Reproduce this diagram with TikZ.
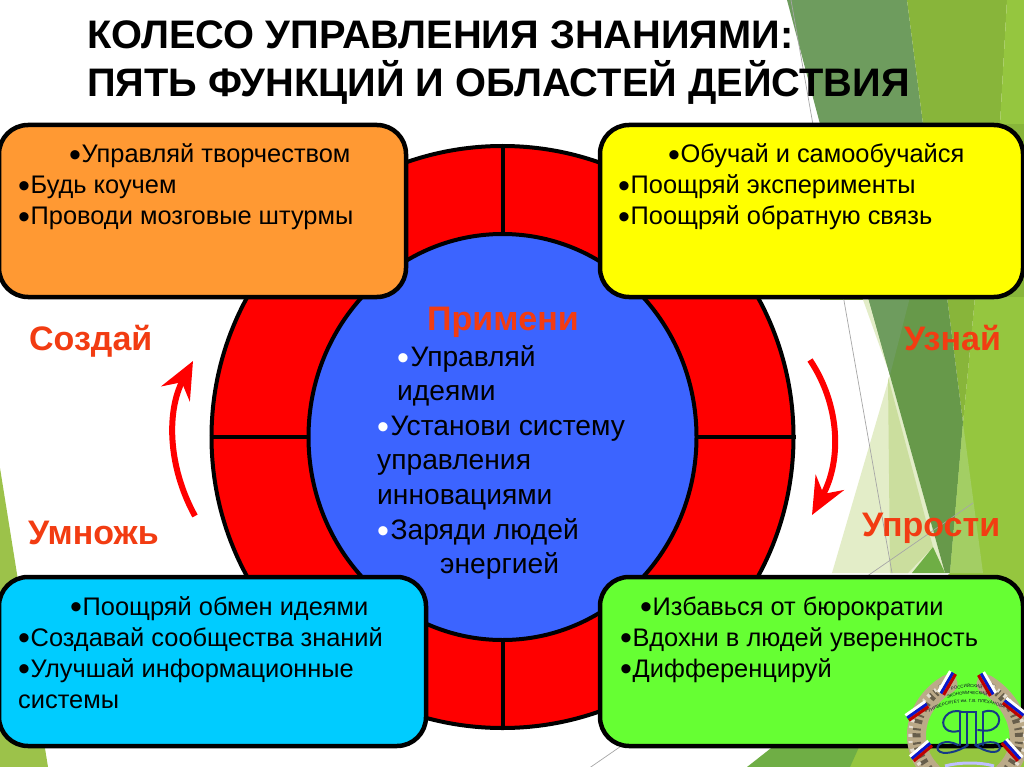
\documentclass[tikz,border=0pt]{standalone}
\usepackage{fontspec}
\setmainfont{Liberation Sans}
\usetikzlibrary{arrows.meta,decorations.text}
\definecolor{lblred}{HTML}{F23C12}
\definecolor{wheelblue}{HTML}{3C64FF}
\definecolor{gA}{HTML}{6E9C5E}
\definecolor{gB}{HTML}{88B53A}
\definecolor{gC}{HTML}{95C63F}
\definecolor{gD}{HTML}{67994A}
\definecolor{gE}{HTML}{E3EDC8}
\definecolor{gF}{HTML}{CBDE9E}
\definecolor{gG}{HTML}{6FAE45}
\definecolor{gH}{HTML}{A3CE64}
\definecolor{gI}{HTML}{9CC24A}
\definecolor{navy}{HTML}{163A86}
\definecolor{wreath}{HTML}{BBAA88}
\definecolor{boxyellow}{RGB}{255,255,0}
\newcommand{\bl}{{\fontsize{34}{34}\selectfont\raisebox{-0.09em}{•}\kern0.6pt}}
\newcommand{\wb}{{\fontsize{34}{34}\selectfont\raisebox{-0.09em}{\textcolor{white}{•}}\kern1.5pt}}
\tikzset{
  infobox/.style={draw=black,line width=4.5pt,rounded corners=29pt},
  boxtext/.style={anchor=base west,inner sep=0pt,align=left,font=\fontsize{25.4}{31}\selectfont},
  centertext/.style={anchor=base west,inner sep=0pt,align=left,font=\fontsize{28.2}{34.6}\selectfont},
  phase/.style={anchor=base west,inner sep=0pt,text=lblred,font=\bfseries\fontsize{34}{34}\selectfont},
  ttl/.style={anchor=base west,inner sep=0pt,align=left,font=\bfseries\fontsize{39.8}{48}\selectfont},
  wheelline/.style={draw=black,line width=4pt},
  turn/.style={draw=red,line width=6pt,-{Stealth[length=37pt,width=32pt,inset=13pt]}},
  thinline/.style={draw=black!35,line width=0.7pt},
  emb/.style={draw=navy,line width=2pt,line cap=round},
  ribbonpart/.style={line width=3pt},
  embtext/.style={decorate,decoration={text along path,text align=center,text color=black!75!navy}}
}
\newcommand{\ribbon}[3]{\begin{scope}[shift={(#1,#2)},rotate=#3]
  \draw[ribbonpart,white] (-12,-3) -- (12,-3);
  \draw[ribbonpart,blue!60!navy] (-12,0) -- (12,0);
  \draw[ribbonpart,red!75!black] (-12,3) -- (12,3);
\end{scope}}
\begin{document}
\begin{tikzpicture}[x=1pt,y=-1pt]
\useasboundingbox (0,0) rectangle (1024,767);
\fill[white] (0,0) rectangle (1024,767);
% background facets
\fill[gI] (0,468) -- (48,767) -- (0,767) -- cycle;
\fill[gA] (787,0) -- (907,0) -- (923,124) -- (820,124) -- cycle;
\fill[gB] (907,0) -- (1007,0) -- (1000,124) -- (923,124) -- cycle;
\fill[gC] (1007,0) -- (1024,0) -- (1024,300) -- (1000,124) -- cycle;
\fill[gB] (820,124) rectangle (1024,300);
\fill[gC] (975,297) -- (1024,297) -- (1024,767) -- (750,767) -- (775,745) -- (950,573) -- (963,423) -- cycle;
\fill[gB] (947,297) -- (975,297) -- (963,423) -- cycle;
\fill[gE] (862,297) -- (868,297) -- (945,573) -- (832,573) -- (890,375) -- cycle;
\fill[gF] (888,377) -- (933,547) -- (908,573) -- (890,573) -- cycle;
\fill[gD] (868,297) -- (947,297) -- (963,423) -- (950,573) -- (945,573) -- cycle;
\fill[gA] (868,297) -- (910,297) -- (890,375) -- cycle;
\fill[gH] (950,573) -- (963,423) -- (983,573) -- cycle;
\fill[gG] (912,573) -- (933,547) -- (945,573) -- cycle;
\fill[gG] (747,767) -- (775,745) -- (860,745) -- (850,767) -- cycle;
\coordinate (thinA) at (791,0);
\coordinate (thinB) at (892,573);
\coordinate (thinC) at (585,771);
\coordinate (thinD) at (973,503);
\draw[thinline] (thinA) -- (thinB);
\draw[thinline] (thinC) -- (thinD);
% wheel
\node[circle,draw=black,line width=4pt,fill=red,minimum size=582pt,inner sep=0pt] (outer) at (502.5,437) {};
\draw[wheelline] (outer.north) -- (outer.south);
\draw[wheelline] (outer.west) -- (outer.east);
\fill[wheelblue,draw=black,line width=4pt] (502.5,437) ellipse [x radius=194,y radius=203];
% boxes
\draw[infobox,fill={rgb,255:red,255;green,153;blue,51}] (-1,125) rectangle (406,297);
\draw[infobox,fill=boxyellow] (600,125) rectangle (1023,297);
\draw[infobox,fill={rgb,255:red,0;green,204;blue,255}] (-1,577) rectangle (426,746);
\draw[infobox,fill={rgb,255:red,102;green,255;blue,51}] (600,577) rectangle (1023,746);
% title
\node[ttl] (title) at (87,97) {КОЛЕСО УПРАВЛЕНИЯ ЗНАНИЯМИ:\\ПЯТЬ ФУНКЦИЙ И ОБЛАСТЕЙ ДЕЙСТВИЯ};
% box texts
\node[boxtext] (t1) at (18,225) {\hspace*{51pt}\bl Управляй творчеством\\\bl Будь коучем\\\bl Проводи мозговые штурмы};
\node[boxtext] (t2) at (618,225) {\hspace*{50pt}\bl Обучай и самообучайся\\\bl Поощряй эксперименты\\\bl Поощряй обратную связь};
\node[boxtext] (t3) at (18,708) {\hspace*{52pt}\bl Поощряй обмен идеями\\\bl Создавай сообщества знаний\\\bl Улучшай информационные\\системы};
\node[boxtext] (t4) at (620,677) {\hspace*{20pt}\bl Избавься от бюрократии\\\bl Вдохни в людей уверенность\\\bl Дифференцируй};
% centre
\node[phase] (apply) at (427,330) {Примени};
\node[centertext] (ctext) at (377,573.6) {\hspace*{20pt}\wb Управляй\\\hspace*{20pt}идеями\\\wb Установи систему\\управления\\инновациями\\\wb Заряди людей\\\hspace*{63pt}энергией};
% phases
\node[phase] (create) at (29,350) {Создай};
\node[phase] (learn) at (904,350) {Узнай};
\node[phase] (mult) at (28,544) {Умножь};
\node[phase] (simple) at (862,536) {Упрости};
% arrows
\coordinate (la) at (195,516);
\coordinate (lb) at (193,361);
\coordinate (ra) at (810,360);
\coordinate (rb) at (812,515);
\draw[turn] (la) .. controls (167,465) and (167,410) .. (lb);
\draw[turn] (ra) .. controls (840,405) and (842,460) .. (rb);
% emblem
\draw[wreath,line width=19pt,line cap=round] (948,684) .. controls (915,703) and (905,745) .. (932,772);
\draw[wreath,line width=19pt,line cap=round] (986,684) .. controls (1018,703) and (1032,745) .. (1004,772);
\draw[black!45!wreath,line width=8pt,dash pattern=on 2pt off 3pt on 4pt off 5pt] (948,684) .. controls (915,703) and (905,745) .. (932,772);
\draw[black!45!wreath,line width=8pt,dash pattern=on 2pt off 3pt on 4pt off 5pt] (986,684) .. controls (1018,703) and (1032,745) .. (1004,772);
\draw[white!60!wreath,line width=4pt,dash pattern=on 3pt off 4pt on 2pt off 6pt] (942,686) .. controls (908,706) and (899,745) .. (926,772);
\draw[white!60!wreath,line width=4pt,dash pattern=on 3pt off 4pt on 2pt off 6pt] (992,686) .. controls (1024,706) and (1038,745) .. (1010,772);
\ribbon{947}{683}{60}
\ribbon{987}{684}{-60}
\ribbon{917}{711}{35}
\ribbon{1014}{708}{-38}
\ribbon{921}{751}{40}
\ribbon{1012}{750}{-48}
\draw[line width=3pt,blue!25!white] (945,766) .. controls (960,762) and (980,762) .. (994,766);
\path[embtext,decoration={text={|\fontsize{4.4}{5}\selectfont|РОССИЙСКИЙ}}] (947,693) .. controls (958,687) and (975,686) .. (987,690);
\path[embtext,decoration={text={|\fontsize{4.4}{5}\selectfont|ЭКОНОМИЧЕСКИЙ}}] (938,702) .. controls (955,693) and (980,692) .. (997,699);
\path[embtext,decoration={text={|\fontsize{4.4}{5}\selectfont|УНИВЕРСИТЕТ им. Г.В. ПЛЕХАНОВА}}] (930,712) .. controls (950,700) and (985,699) .. (1003,708);
\draw[emb] (962,712) .. controls (948,707) and (938,722) .. (946,729) .. controls (949,732) and (954,732) .. (959,731);
\draw[emb] (960,712) -- (960,745);
\draw[emb] (967,712) -- (967,745);
\draw[emb] (960,712) -- (976,712) -- (976,745);
\draw[emb] (983,712) -- (983,745);
\draw[emb] (983,712) .. controls (1000,706) and (1004,724) .. (993,729) .. controls (990,731) and (985,731) .. (978,730);
\draw[emb] (958,745) .. controls (945,738) and (935,745) .. (938,750) .. controls (942,756) and (958,752) .. (968,745);
\draw[emb] (978,745) .. controls (990,740) and (1000,742) .. (1000,748) .. controls (998,755) and (985,752) .. (975,745);
\end{tikzpicture}
\end{document}
